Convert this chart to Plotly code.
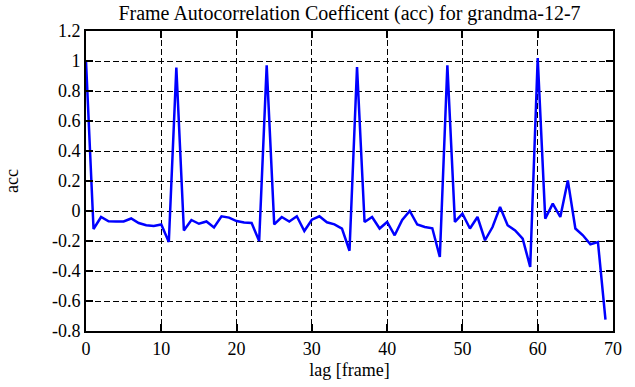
import plotly.graph_objects as go

lags = list(range(70))
acc = [1.0, -0.12, -0.04, -0.069, -0.07, -0.07, -0.05, -0.08, -0.095, -0.10,
       -0.09, -0.207, 0.956, -0.13, -0.06, -0.085, -0.07, -0.11, -0.035, -0.044,
       -0.067, -0.077, -0.08, -0.2, 0.971, -0.089, -0.04, -0.07, -0.035, -0.133,
       -0.058, -0.035, -0.075, -0.089, -0.117, -0.265, 0.96, -0.073, -0.04, -0.117,
       -0.073, -0.162, -0.06, 0.0, -0.09, -0.107, -0.115, -0.307, 0.971, -0.073,
       -0.018, -0.117, -0.04, -0.195, -0.107, 0.027, -0.095, -0.13, -0.184, -0.373,
       1.02, -0.051, 0.049, -0.04, 0.204, -0.117, -0.162, -0.222, -0.207, -0.724]

x_ticks = [0, 10, 20, 30, 40, 50, 60, 70]
x_ticktext = ["0", "10", "20", "30", "40", "50", "60", "70"]
y_ticks = [1.2, 1.0, 0.8, 0.6, 0.4, 0.2, 0.0, -0.2, -0.4, -0.6, -0.8]
y_ticktext = ["1.2", "1", "0.8", "0.6", "0.4", "0.2", "0", "-0.2", "-0.4", "-0.6", "-0.8"]

title = "Frame Autocorrelation Coefficent (acc) for grandma-12-7"

font = "Liberation Serif, Times New Roman, serif"

W, H = 635, 387
L, R, T, B = 86, 22, 31, 56

fig = go.Figure()
fig.add_trace(go.Scatter(x=lags, y=acc, mode="lines",
                         line=dict(color="#0000ff", width=2.5), showlegend=False))

axis_common = dict(showline=True, linecolor="black", linewidth=2, mirror="ticks",
                   ticks="inside", ticklen=7, tickcolor="black", tickwidth=1.5,
                   showgrid=True, gridcolor="black", gridwidth=1, griddash="6px,3px",
                   zeroline=False, automargin=False,
                   tickfont=dict(family=font, size=18, color="black"))

fig.update_layout(
    width=W, height=H,
    margin=dict(l=L, r=R, t=T, b=B),
    paper_bgcolor="white", plot_bgcolor="white",
    title=dict(text=title, x=(L + (W - R)) / 2 / W, xanchor="center",
               y=1 - 13 / H, yanchor="middle",
               font=dict(family=font, size=20, color="black")),
    xaxis=dict(range=[0, 70], tickvals=x_ticks, ticktext=x_ticktext,
               title=dict(text="lag [frame]", font=dict(family=font, size=18, color="black"), standoff=6),
               **axis_common),
    yaxis=dict(range=[-0.8, 1.2], tickvals=y_ticks, ticktext=y_ticktext,
               title=dict(text="acc", font=dict(family=font, size=18, color="black"), standoff=29),
               **axis_common),
)

# remove the default page margin so the figure sits at the window's top-left corner
fig.write_html("out.html", config={"displayModeBar": False},
               post_script="document.body.style.margin='0';")
